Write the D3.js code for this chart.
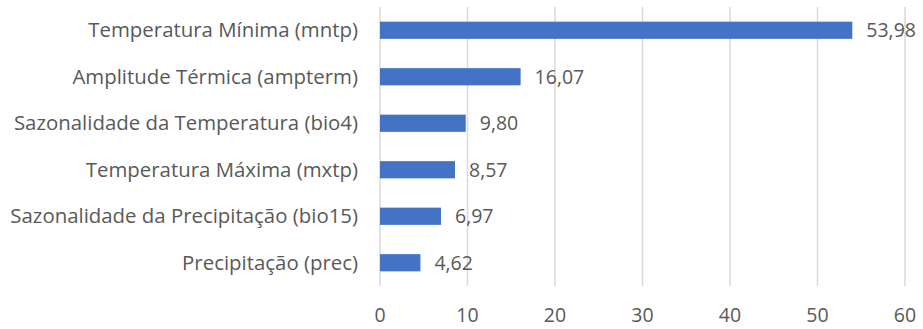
<!DOCTYPE html>
<html>
<head>
<meta charset="utf-8">
<script src="https://cdn.jsdelivr.net/npm/d3@7"></script>
<style>
  body { margin: 0; background: #fff; }
  svg text { font-family: "Open Sans", Lato, sans-serif; fill: #595959; }
</style>
</head>
<body>
<svg id="chart" width="923" height="329"></svg>
<script>
// data, top to bottom
var categories = [
    'Temperatura Mínima (mntp)',
    'Amplitude Térmica (ampterm)',
    'Sazonalidade da Temperatura (bio4)',
    'Temperatura Máxima (mxtp)',
    'Sazonalidade da Precipitação (bio15)',
    'Precipitação (prec)'
];
var values = [53.98, 16.07, 9.80, 8.57, 6.97, 4.62];
var ticks = [0, 10, 20, 30, 40, 50, 60];

var svg = d3.select('#chart');
// plot area (note: "top" is taken by window.top, so use plotTop)
var plotLeft = 380, plotRight = 905, plotTop = 7, plotBottom = 286;

var x = d3.scaleLinear().domain([0, 60]).range([plotLeft, plotRight]);
var y = d3.scaleBand().domain(categories).range([plotTop, plotBottom]).paddingInner(0.63).paddingOuter(0.315);

// gridlines
svg.append('g').selectAll('line').data(ticks).enter().append('line')
    .attr('x1', function(d){ return x(d); })
    .attr('x2', function(d){ return x(d); })
    .attr('y1', plotTop)
    .attr('y2', plotBottom)
    .attr('stroke', '#d9d9d9')
    .attr('stroke-width', 1.5);

// bars
svg.append('g').selectAll('rect').data(values).enter().append('rect')
    .attr('x', x(0))
    .attr('y', function(d, i){ return y(categories[i]); })
    .attr('width', function(d){ return x(d) - x(0); })
    .attr('height', y.bandwidth())
    .attr('fill', '#4472c4');

// value labels
var fmt = function(v){ return v.toFixed(2).replace('.', ','); };
svg.append('g').selectAll('text').data(values).enter().append('text')
    .attr('x', function(d){ return x(d) + 14; })
    .attr('y', function(d, i){ return y(categories[i]) + y.bandwidth() / 2; })
    .attr('dy', '0.35em')
    .style('font-size', '19.5px')
    .text(fmt);

// category labels
svg.append('g').selectAll('text').data(categories).enter().append('text')
    .attr('x', 358)
    .attr('y', function(d){ return y(d) + y.bandwidth() / 2; })
    .attr('dy', '0.35em')
    .attr('text-anchor', 'end')
    .style('font-size', '20.4px')
    .text(function(d){ return d; });

// x tick labels
svg.append('g').selectAll('text').data(ticks).enter().append('text')
    .attr('x', function(d){ return x(d); })
    .attr('y', 315)
    .attr('dy', '0.35em')
    .attr('text-anchor', 'middle')
    .style('font-size', '19.5px')
    .text(function(d){ return d; });
</script>
</body>
</html>
